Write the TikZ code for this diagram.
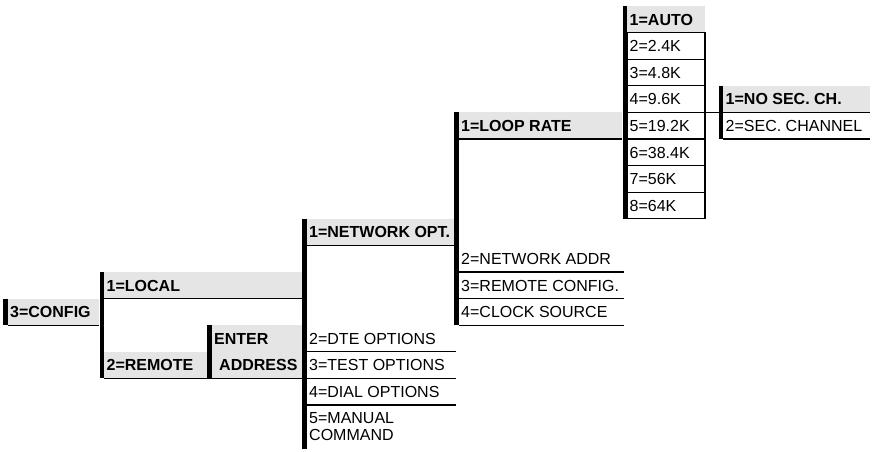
\documentclass[tikz,border=0pt]{standalone}
\usepackage{fontspec}
\setmainfont{Liberation Sans}
\definecolor{selgray}{gray}{0.9}
\newcommand\cellfont{\fontsize{16}{17}\selectfont}
\begin{document}
\begin{tikzpicture}[x=1pt,y=-1pt,
  box/.style={rectangle, anchor=north west, inner sep=0pt, outer sep=0pt, minimum height=26.6pt},
  sel/.style={box, fill=selgray},
  rbox/.style={box, draw, line width=1.3pt},
  txt/.style={anchor=west, inner xsep=2.5pt, inner ysep=0pt, text height=11.5pt, text depth=0pt, font=\cellfont},
  btxt/.style={txt, font=\cellfont\bfseries},
  bar/.style={line width=4.5pt},
  rule/.style={line width=1.3pt}]
\useasboundingbox (0,0) rectangle (874,451);

% ---- cells ----
\node[sel, minimum width=91.5pt] (c-config) at (7.5,298.6) {};
\node[sel, minimum width=198pt] (c-local) at (104,272.0) {};
\node[sel, minimum width=103pt] (c-remote) at (104,351.8) {};
\node[sel, minimum width=90.5pt] (c-enter) at (211.5,325.2) {};
\node[sel, minimum width=90.5pt] (c-address) at (211.5,351.8) {};
\node[sel, minimum width=147.5pt] (c-netopt) at (306.5,218.8) {};
\node[box, minimum width=149.5pt] (c-dte) at (306.5,325.2) {};
\node[box, minimum width=149.5pt] (c-test) at (306.5,351.8) {};
\node[box, minimum width=149.5pt] (c-dial) at (306.5,378.4) {};
\node[box, minimum width=149.5pt, minimum height=44pt] (c-manual) at (306.5,405.0) {};
\node[sel, minimum width=163.5pt] (c-loop) at (458.5,112.4) {};
\node[box, minimum width=165.5pt] (c-netaddr) at (458.5,245.4) {};
\node[box, minimum width=165.5pt] (c-remconf) at (458.5,272.0) {};
\node[box, minimum width=165.5pt] (c-clock) at (458.5,298.6) {};
\node[sel, minimum width=78pt] (c-r1) at (627,6.0) {};
\node[rbox, minimum width=78pt] (c-r2) at (627,32.6) {};
\node[rbox, minimum width=78pt] (c-r3) at (627,59.2) {};
\node[rbox, minimum width=78pt] (c-r4) at (627,85.8) {};
\node[rbox, minimum width=78pt] (c-r5) at (627,112.4) {};
\node[rbox, minimum width=78pt] (c-r6) at (627,139.0) {};
\node[rbox, minimum width=78pt] (c-r7) at (627,165.6) {};
\node[rbox, minimum width=78pt] (c-r8) at (627,192.2) {};
\node[sel, minimum width=147pt] (c-nosec) at (723,85.8) {};
\node[box, minimum width=147pt] (c-secch) at (723,112.4) {};

% ---- texts ----
\node[btxt] (t-config) at (c-config.west) {3=CONFIG};
\node[btxt] (t-local) at (c-local.west) {1=LOCAL};
\node[btxt] (t-remote) at (c-remote.west) {2=REMOTE};
\node[btxt] (t-enter) at (c-enter.west) {ENTER};
\node[btxt, xshift=5pt] (t-address) at (c-address.west) {ADDRESS};
\node[btxt] (t-netopt) at (c-netopt.west) {1=NETWORK OPT.};
\node[txt] (t-dte) at (c-dte.west) {2=DTE OPTIONS};
\node[txt] (t-test) at (c-test.west) {3=TEST OPTIONS};
\node[txt] (t-dial) at (c-dial.west) {4=DIAL OPTIONS};
\node[anchor=west, inner xsep=2.5pt, inner ysep=0pt, align=left, font=\cellfont] (t-manual) at (c-manual.west) {5=MANUAL\\COMMAND};
\node[btxt] (t-loop) at (c-loop.west) {1=LOOP RATE};
\node[txt] (t-netaddr) at (c-netaddr.west) {2=NETWORK ADDR};
\node[txt] (t-remconf) at (c-remconf.west) {3=REMOTE CONFIG.};
\node[txt] (t-clock) at (c-clock.west) {4=CLOCK SOURCE};
\node[btxt] (t-r1) at (c-r1.west) {1=AUTO};
\node[txt] (t-r2) at (c-r2.west) {2=2.4K};
\node[txt] (t-r3) at (c-r3.west) {3=4.8K};
\node[txt] (t-r4) at (c-r4.west) {4=9.6K};
\node[txt] (t-r5) at (c-r5.west) {5=19.2K};
\node[txt] (t-r6) at (c-r6.west) {6=38.4K};
\node[txt] (t-r7) at (c-r7.west) {7=56K};
\node[txt] (t-r8) at (c-r8.west) {8=64K};
\node[btxt] (t-nosec) at (c-nosec.west) {1=NO SEC. CH.};
\node[txt] (t-secch) at (c-secch.west) {2=SEC. CHANNEL};

% ---- rules / connectors ----
\draw[rule] (c-config.south west) -- (c-config.south east);
\draw[rule] (c-local.south west) -- (c-local.south east);
\draw[rule] (c-remote.south west) -- (c-address.south east);
\draw[rule] (c-netopt.south west) -- (c-netopt.south east);
\draw[rule] (c-dte.south west) -- (c-dte.south east);
\draw[rule] (c-test.south west) -- (c-test.south east);
\draw[rule] (c-dial.south west) -- (c-dial.south east);
\draw[rule] (c-loop.south west) -- (c-loop.south east);
\draw[rule] (c-netaddr.south west) -- (c-netaddr.south east);
\draw[rule] (c-remconf.south west) -- (c-remconf.south east);
\draw[rule] (c-clock.south west) -- (c-clock.south east);
\draw[rule] (c-r4.south east) -- (c-nosec.south east);
\draw[rule] (c-secch.south west) -- (c-secch.south east);

% ---- thick bars ----
\draw[bar] ([xshift=-2.25pt]c-config.north west) -- ([xshift=-2.25pt]c-config.south west);
\draw[bar] ([xshift=-2.25pt]c-local.north west) -- ([xshift=-2.25pt]c-remote.south west);
\draw[bar] ([xshift=-2.25pt]c-enter.north west) -- ([xshift=-2.25pt]c-address.south west);
\draw[bar] ([xshift=-2.25pt]c-netopt.north west) -- ([xshift=-2.25pt]c-manual.south west);
\draw[bar] ([xshift=-2.25pt]c-loop.north west) -- ([xshift=-2.25pt]c-clock.south west);
\draw[bar] ([xshift=-2.25pt]c-r1.north west) -- ([xshift=-2.25pt]c-r8.south west);
\draw[bar] ([xshift=-2.25pt]c-nosec.north west) -- ([xshift=-2.25pt]c-secch.south west);
\end{tikzpicture}
\end{document}
